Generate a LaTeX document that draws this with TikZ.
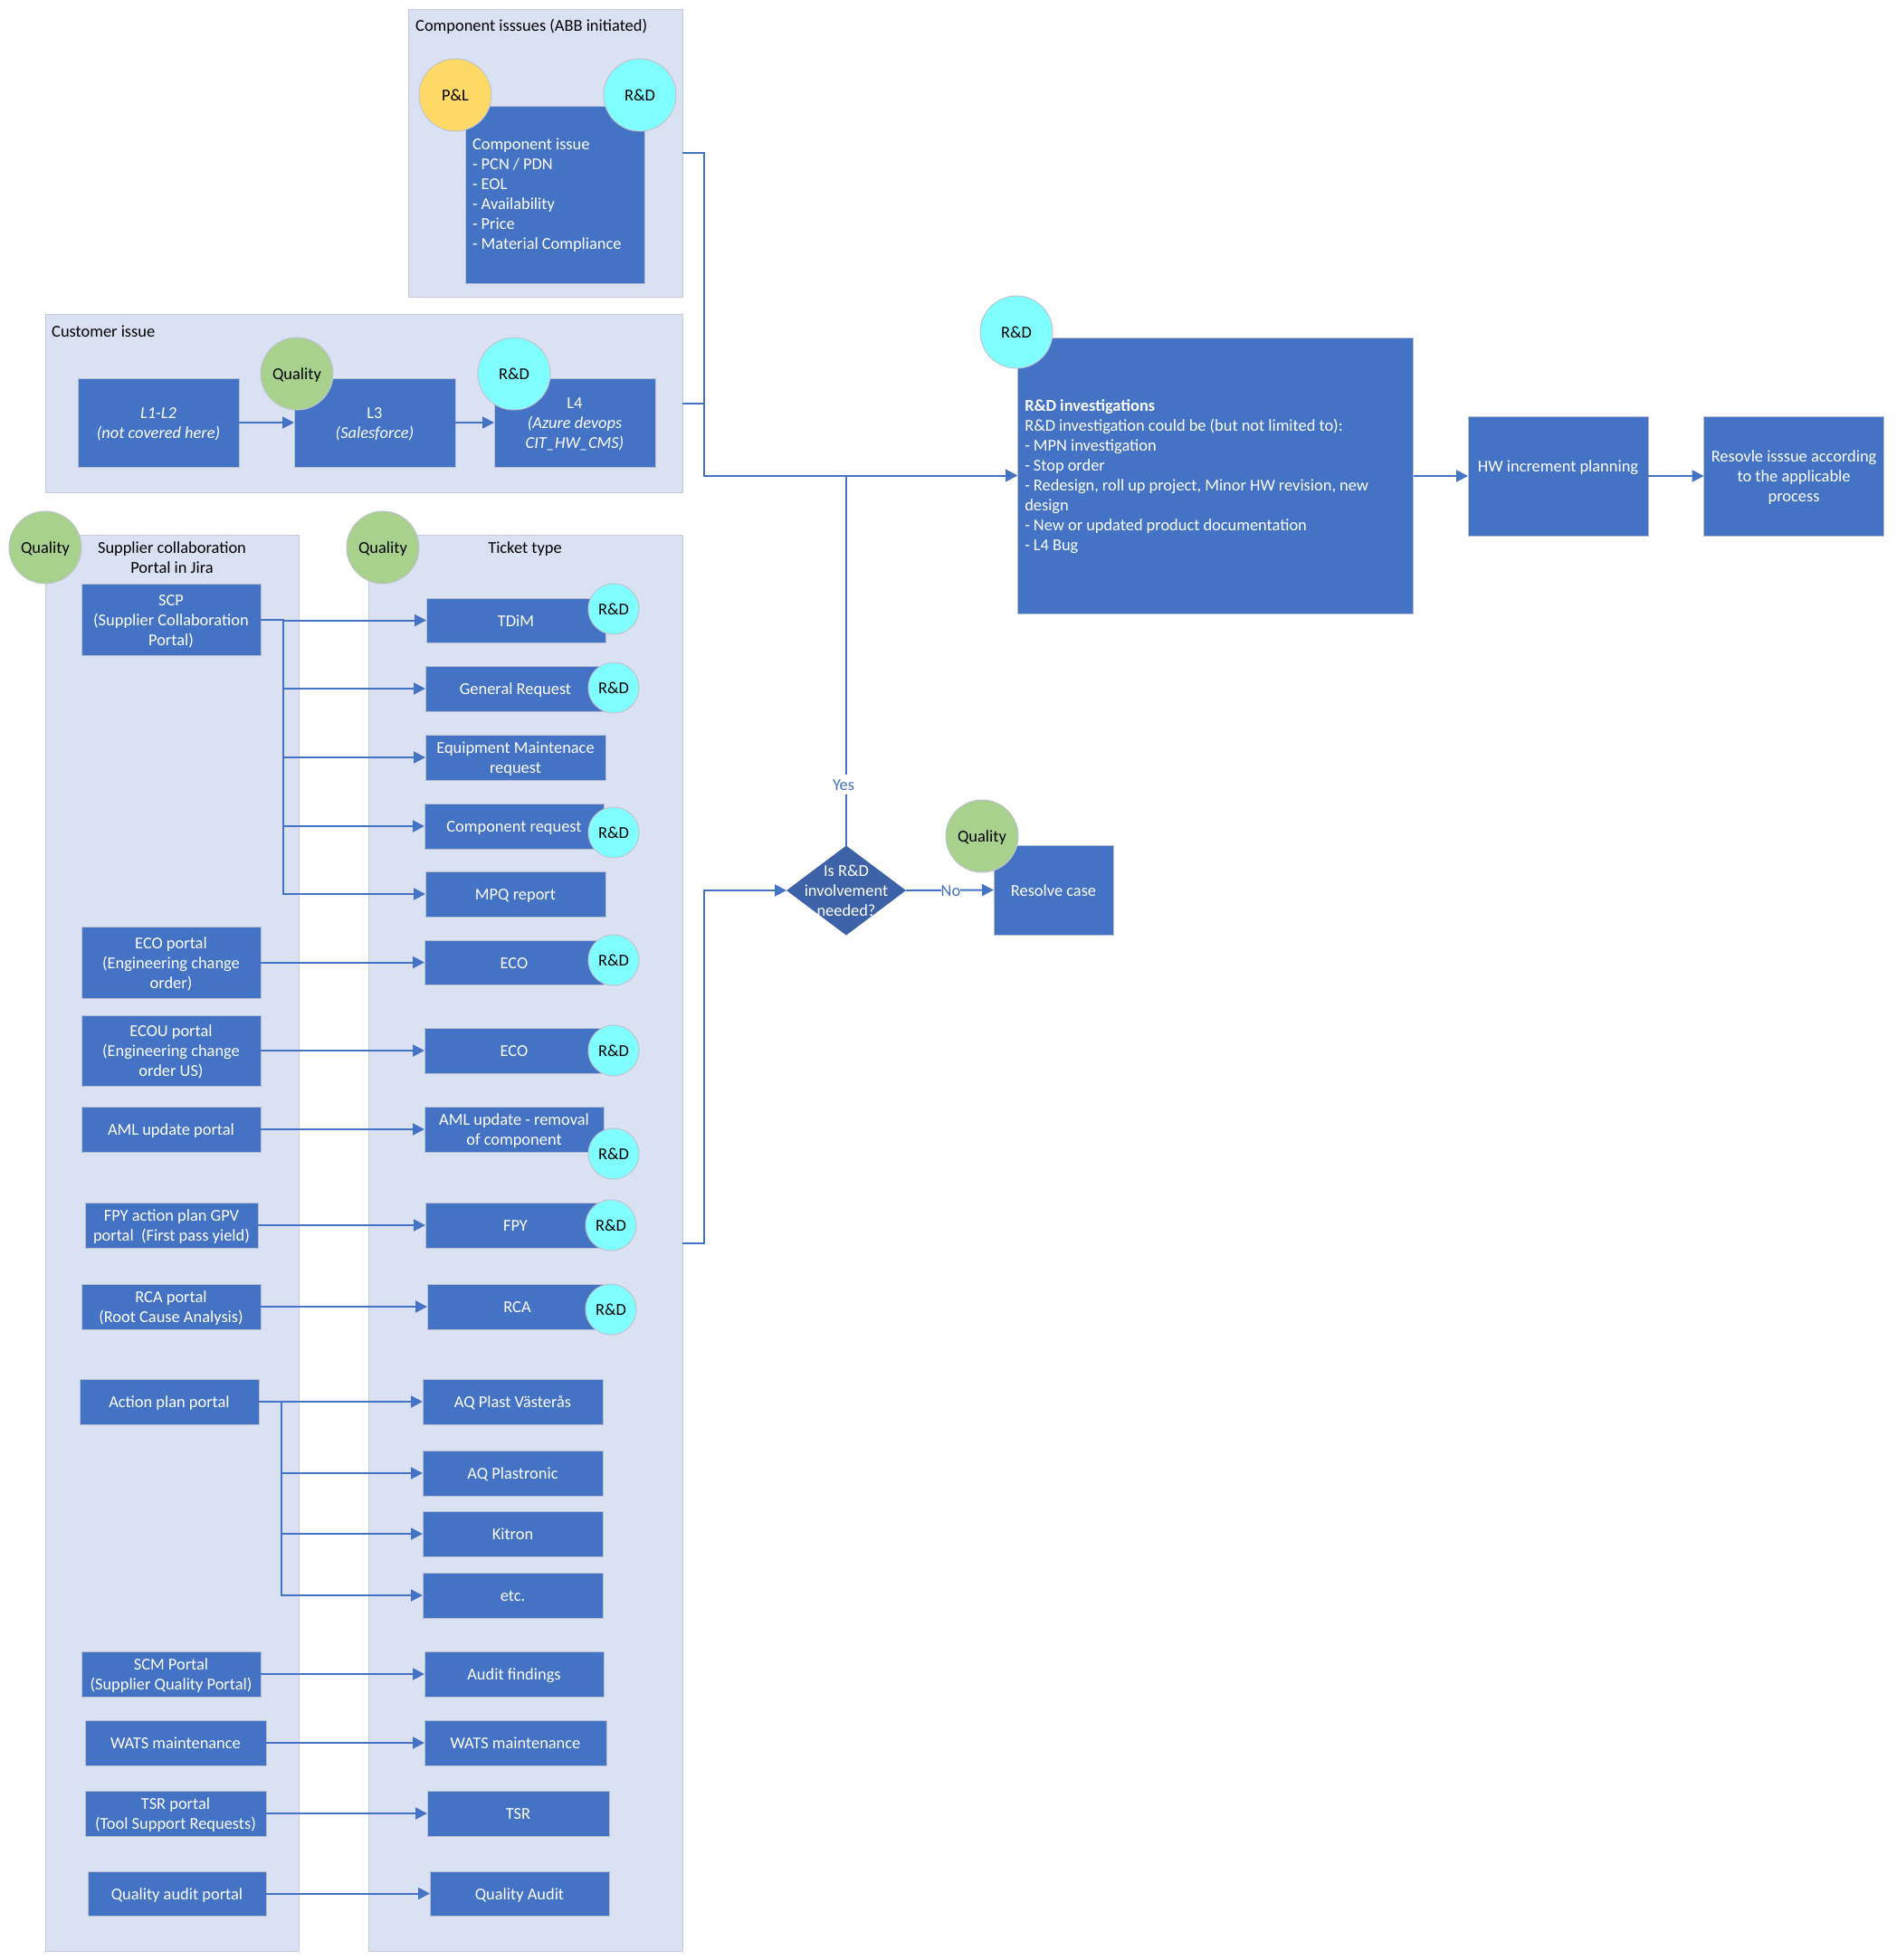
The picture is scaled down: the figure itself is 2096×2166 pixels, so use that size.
\documentclass[tikz,border=0pt]{standalone}
\usepackage{fontspec}
\setmainfont{Carlito}
\usetikzlibrary{arrows.meta,shapes.geometric}
\definecolor{boxblue}{HTML}{4472C4}
\definecolor{boxedge}{HTML}{B7C0D3}
\definecolor{groupfill}{HTML}{DAE1F3}
\definecolor{groupedge}{HTML}{C6CCDA}
\definecolor{decfill}{HTML}{3E62A8}
\definecolor{rdcol}{HTML}{7FFFFF}
\definecolor{qcol}{HTML}{A9D18E}
\definecolor{plcol}{HTML}{FFD966}
\definecolor{circedge}{HTML}{BFC4CF}
\newcommand{\leftstrut}{\rule[-4pt]{0pt}{19pt}}
\newcommand{\tightspaces}{\spaceskip=0.22em plus 0.05em minus 0.02em\relax}
% centred block of lines, its middle set exactly on the node centre
\newcommand{\ctext}[1]{\raisebox{\dimexpr(\depth-\height)/2-2.5pt\relax}[0pt][0pt]{\setbox\strutbox\hbox{\vrule height 15.4pt depth 6.6pt width 0pt}\begin{tabular}{@{}c@{}}#1\end{tabular}}}
\tikzset{
  basefont/.style={font=\fontsize{18.4}{22}\selectfont},
  group/.style={rectangle,draw=groupedge,fill=groupfill,line width=1pt,inner sep=0pt,outer sep=0pt},
  pbox/.style={rectangle,draw=boxedge,fill=boxblue,line width=1pt,inner sep=0pt,outer sep=0pt,text=white,basefont},
  leftbox/.style={align=left,inner xsep=8pt,execute at begin node={\tightspaces\leftstrut},execute at end node={\leftstrut}},
  disc/.style={circle,draw=circedge,line width=1pt,inner sep=0pt,outer sep=0pt,text=black,basefont},
  rd/.style={disc,fill=rdcol},
  ql/.style={disc,fill=qcol},
  pl/.style={disc,fill=plcol},
  ttl/.style={text=black,basefont,inner sep=0pt},
  conn/.style={draw=boxblue,line width=2pt,-{Triangle[length=13pt,width=13pt]}},
  lab/.style={fill=white,text=boxblue,basefont,inner sep=0pt,minimum height=22pt}
}
\newcommand{\pb}[6]{\node[pbox,minimum width={#4-#2},minimum height={#5-#3}] (#1) at ({(#2+#4)/2},{(#3+#5)/2}) {\ctext{#6}};}
\newcommand{\lb}[7]{\node[pbox,leftbox,text width=#2,minimum width={#5-#3},minimum height={#6-#4}] (#1) at ({(#3+#5)/2},{(#4+#6)/2}) {#7};}
\newcommand{\gr}[5]{\node[group,minimum width={#4-#2},minimum height={#5-#3}] (#1) at ({(#2+#4)/2},{(#3+#5)/2}) {};}
\begin{document}
\begin{tikzpicture}[x=1pt,y=-1pt]
\useasboundingbox (0,0) rectangle (2096,2166);
% groups
\gr{gcomp}{451}{10}{754}{328}
\gr{gcust}{50}{347}{754}{544}
\gr{gsupp}{50}{591}{330}{2156}
\gr{gtick}{407.5}{591}{754}{2156}
\node[ttl,anchor=west] (tcomp) at (459,28) {\ctext{Component isssues (ABB initiated)}};
\node[ttl,anchor=west] (tcust) at (57,366) {\ctext{Customer issue}};
\node[ttl] (tsupp) at (190,616) {\ctext{Supplier collaboration\\Portal in Jira}};
\node[ttl] (ttick) at (580,605) {\ctext{Ticket type}};
% top box
\lb{comp}{182pt}{514}{117}{712}{313}{Component issue\\- PCN / PDN\\- EOL\\- Availability\\- Price\\- Material Compliance}
% customer
\pb{lone}{86}{418}{264}{516}{\itshape L1-L2\\\itshape (not covered here)}
\pb{lthree}{325}{418}{503}{516}{L3\\\itshape (Salesforce)}
\pb{lfour}{546}{418}{724}{516}{L4\\\itshape (Azure devops\\\itshape CIT\_HW\_CMS)}
% left column
\pb{scp}{90}{645}{288}{724}{SCP\\(Supplier Collaboration\\Portal)}
\pb{ecop}{90}{1024}{288}{1103}{ECO portal\\(Engineering change\\order)}
\pb{ecou}{90}{1122}{288}{1200}{ECOU portal\\(Engineering change\\order US)}
\pb{amlp}{90}{1223}{288}{1273}{AML update portal}
\pb{fpyp}{94}{1329}{285}{1379}{FPY action plan GPV\\portal\ \ (First pass yield)}
\pb{rcap}{90}{1419}{288}{1469}{RCA portal\\(Root Cause Analysis)}
\pb{actp}{88}{1524}{286}{1574}{Action plan portal}
\pb{scmp}{90}{1825}{288}{1875}{SCM Portal\\(Supplier Quality Portal)}
\pb{watp}{94}{1901}{294}{1951}{WATS maintenance}
\pb{tsrp}{94}{1979}{294}{2029}{TSR portal\\(Tool Support Requests)}
\pb{qap}{97}{2068}{294}{2117}{Quality audit portal}
% right column
\pb{tdim}{471}{661}{669}{710}{TDiM}
\pb{genr}{470}{736}{669}{786}{General Request}
\pb{equi}{470}{812}{669}{862}{Equipment Maintenace\\request}
\pb{cmpr}{469}{888}{667}{938}{Component request}
\pb{mpq}{470}{963}{669}{1013}{MPQ report}
\pb{ecoa}{469}{1039}{667}{1088}{ECO}
\pb{ecob}{469}{1136}{667}{1186}{ECO}
\pb{aml}{469}{1223}{667}{1273}{AML update - removal\\of component}
\pb{fpy}{470}{1329}{669}{1379}{FPY}
\pb{rca}{472}{1419}{671}{1469}{RCA}
\pb{aqa}{467}{1524}{666}{1574}{AQ Plast Västerås}
\pb{aqb}{467}{1603}{666}{1653}{AQ Plastronic}
\pb{kit}{467}{1670}{666}{1720}{Kitron}
\pb{etc}{467}{1738}{666}{1788}{etc.}
\pb{aud}{469}{1825}{667}{1875}{Audit findings}
\pb{wat}{469}{1901}{670}{1951}{WATS maintenance}
\pb{tsr}{472}{1979}{673}{2029}{TSR}
\pb{qa}{475}{2068}{673}{2117}{Quality Audit}
% process
\lb{rdinv}{421pt}{1124}{373}{1561.5}{678}{\textbf{R\&D investigations}\\R\&D investigation could be (but not limited to):\\- MPN investigation\\- Stop order\\- Redesign, roll up project, Minor HW revision, new\\design\\- New or updated product documentation\\- L4 Bug}
\pb{hw}{1622}{460}{1821}{592}{HW increment planning\\\mbox{}}
\pb{res}{1882.6}{460}{2081.5}{592}{Resovle isssue according\\to the applicable\\process}
\node[diamond,fill=decfill,inner sep=0pt,outer sep=0pt,minimum width=132pt,minimum height=99pt,aspect=1.33,text=white,basefont] (dec) at (935,984) {\ctext{Is R\&D\\involvement\\needed?}};
\pb{rescase}{1098}{934}{1230}{1033}{Resolve case}
% connectors
\draw[conn] (lone.east |- 0,467) -- (lthree.west |- 0,467);
\draw[conn] (lthree.east |- 0,467) -- (lfour.west |- 0,467);
\draw[conn] (scp.east) -- ++(25,0) |- (tdim.west);
\draw[conn] (scp.east) -- ++(25,0) |- (genr.west);
\draw[conn] (scp.east) -- ++(25,0) |- (equi.west);
\draw[conn] (scp.east) -- ++(25,0) |- (cmpr.west);
\draw[conn] (scp.east) -- ++(25,0) |- (mpq.west);
\draw[conn] (ecop.east) -- (ecoa.west);
\draw[conn] (ecou.east) -- (ecob.west);
\draw[conn] (amlp.east) -- (aml.west);
\draw[conn] (fpyp.east) -- (fpy.west);
\draw[conn] (rcap.east) -- (rca.west);
\draw[conn] (actp.east) -- (aqa.west);
\draw[conn] (actp.east) -- ++(25,0) |- (aqb.west);
\draw[conn] (actp.east) -- ++(25,0) |- (kit.west);
\draw[conn] (actp.east) -- ++(25,0) |- (etc.west);
\draw[conn] (scmp.east) -- (aud.west);
\draw[conn] (watp.east) -- (wat.west);
\draw[conn] (tsrp.east) -- (tsr.west);
\draw[conn] (qap.east) -- (qa.west);
\draw[conn] (gcomp.east) -- ++(24,0) |- (rdinv.west);
\draw[conn] (gcust.east) -- ++(24,0) |- (rdinv.west);
\draw[conn] (gtick.east) -- ++(24,0) |- (dec.west);
\draw[conn] (dec.north) |- node[pos=0.083,lab,xshift=-3pt] (yeslab) {\ctext{Yes}} (rdinv.west);
\draw[conn] (dec.east) -- node[lab,pos=0.51] (nolab) {\ctext{No}} (rescase.west);
\draw[conn] (rdinv.east |- 0,526) -- (hw.west |- 0,526);
\draw[conn] (hw.east |- 0,526) -- (res.west |- 0,526);
% discs
\node[pl,minimum size=80pt] (cpl) at (503,105) {\ctext{P\&L}};
\node[rd,minimum size=80pt] (crd) at (707,105) {\ctext{R\&D}};
\node[ql,minimum size=80pt] (cqthree) at (328,413) {\ctext{Quality}};
\node[rd,minimum size=80pt] (crdfour) at (568,413) {\ctext{R\&D}};
\node[ql,minimum size=80pt] (cqsupp) at (50,605) {\ctext{Quality}};
\node[ql,minimum size=80pt] (cqtick) at (423,605) {\ctext{Quality}};
\node[rd,minimum size=80pt] (crdinv) at (1123,367) {\ctext{R\&D}};
\node[ql,minimum size=80pt] (cqres) at (1085,924) {\ctext{Quality}};
\node[rd,minimum size=56pt] (d1) at (678,673) {\ctext{R\&D}};
\node[rd,minimum size=56pt] (d2) at (678,760) {\ctext{R\&D}};
\node[rd,minimum size=56pt] (d3) at (678,920) {\ctext{R\&D}};
\node[rd,minimum size=56pt] (d4) at (678,1061) {\ctext{R\&D}};
\node[rd,minimum size=56pt] (d5) at (678,1161) {\ctext{R\&D}};
\node[rd,minimum size=56pt] (d6) at (678,1275) {\ctext{R\&D}};
\node[rd,minimum size=56pt] (d7) at (675,1354) {\ctext{R\&D}};
\node[rd,minimum size=56pt] (d8) at (675,1447) {\ctext{R\&D}};
\end{tikzpicture}
\end{document}
